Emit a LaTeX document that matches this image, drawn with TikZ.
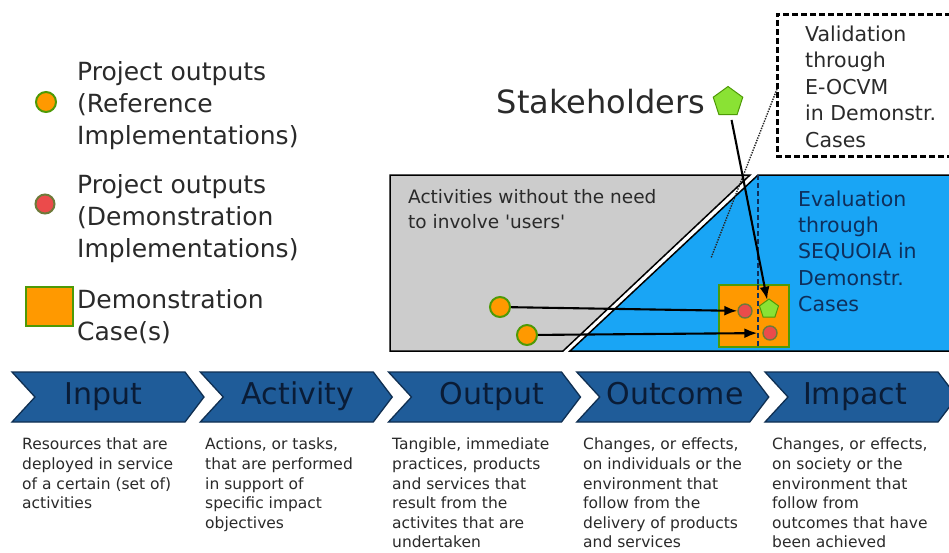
\documentclass[tikz,border=0pt]{standalone}
\usepackage{fontspec}
\setmainfont{DejaVu Sans}[Ligatures=TeXOff]
\usetikzlibrary{arrows.meta,shapes.geometric}

\definecolor{orangefill}{HTML}{FF9900}
\definecolor{greenedge}{HTML}{4E9A06}
\definecolor{redfill}{HTML}{EB4B4B}
\definecolor{rededge}{HTML}{6E7A3A}
\definecolor{pentfill}{HTML}{8AE234}
\definecolor{greyzone}{HTML}{CCCCCC}
\definecolor{bluezone}{HTML}{19A5F5}
\definecolor{navytext}{HTML}{0E2F5C}
\definecolor{chevfill}{HTML}{1F5C99}
\definecolor{chevline}{HTML}{0F2F52}
\definecolor{chevtext}{HTML}{0A1C36}
\definecolor{bodytext}{HTML}{2A2A2A}

\newcommand\fsz[2]{\fontsize{#1}{#2}\selectfont}
% first-line strut so that a node's top sits at a fixed height above its first baseline
\newcommand\topline{\vphantom{(}}

\begin{document}
\begin{tikzpicture}[x=1pt,y=-1pt,
  txt/.style={anchor=north west,align=left,inner sep=0pt,text=bodytext},
  legtext/.style={txt,font=\fsz{25}{32}},
  desc/.style={txt,font=\fsz{15.5}{19.6},text=bodytext},
  chevbody/.style={fill=chevfill,draw=chevline,line width=1.3},
  chevlabel/.style={anchor=base,inner sep=0pt,text=chevtext,font=\fsz{30}{30}},
  refdot/.style={circle,draw=greenedge,fill=orangefill,line width=2,minimum size=20,inner sep=0pt},
  demodot/.style={circle,draw=rededge,fill=redfill,line width=1.4,minimum size=14,inner sep=0pt},
  pent/.style={regular polygon,regular polygon sides=5,draw=greenedge,fill=pentfill,line width=1,inner sep=0pt},
  casebox/.style={draw=greenedge,fill=orangefill,line width=2,inner sep=0pt},
  flow/.style={-{Latex[length=13,width=10]},line width=2.1,black}
]
\useasboundingbox (0,0) rectangle (949,552);
\clip (0,0) rectangle (949,552);
\fill[white] (0,0) rectangle (949,552);

% ---------- legend ----------
\node[refdot] (legref) at (46,102) {};
\node[legtext] (legreftext) at (77,61) {\topline Project outputs\\(Reference\\Implementations)};
\node[demodot,minimum size=19,line width=2] (legdemo) at (45,204) {};
\node[legtext] (legdemotext) at (77,174) {\topline Project outputs\\(Demonstration\\Implementations)};
\node[casebox,minimum width=47,minimum height=39] (legcase) at (49,306) {};
\node[legtext] (legcasetext) at (77,289) {\topline Demonstration\\Case(s)};

% ---------- zones ----------
\draw[fill=greyzone,line width=1.5] (390,175) -- (750,175) -- (563,351) -- (390,351) -- cycle;
\draw[fill=bluezone,line width=1.5] (960,175) -- (758,175) -- (570,351) -- (960,351);
\draw[navytext,line width=1.5,dash pattern=on 5pt off 3pt] (758,175) -- (758,351);

\node[txt,font=\fsz{18.5}{25}] (userless) at (408,189) {\topline Activities without the need\\to involve 'users'};
\node[txt,font=\fsz{20.5}{26.3},text=navytext] (sequoia) at (798,190.5) {\topline Evaluation\\through\\SEQUOIA in\\Demonstr.\\Cases};

% ---------- validation box ----------
\draw[line width=3,dash pattern=on 6pt off 3pt] (960,14) -- (777,14) -- (777,156) -- (960,156);
\node[txt,font=\fsz{20.5}{26.5}] (validation) at (805,25.5) {\topline Validation\\through\\E-OCVM\\in Demonstr.\\Cases};
\coordinate (valedge) at (777,89);
\coordinate (valend) at (711,258);
\draw[black!85,line width=1.4,dash pattern=on 1.4pt off 1.2pt] (valedge) -- (valend);

% ---------- demonstration case ----------
\node[casebox,minimum width=70,minimum height=62] (case) at (754,316) {};
\draw[navytext,line width=1.5,dash pattern=on 5pt off 3pt] (758,285) -- (758,347);
\node[demodot] (demoA) at (745,311) {};
\node[demodot] (demoB) at (770,333) {};
\node[pent,minimum size=20] (stakein) at (769,309) {};

\node[refdot] (refA) at (500,307) {};
\node[refdot] (refB) at (527,335) {};
\draw[flow] (refA) -- (demoA);
\draw[flow,shorten >=5pt] (refB) -- (demoB);

% ---------- stakeholders ----------
\node[pent,minimum size=31] (stake) at (728,102) {};
\node[anchor=base east,inner sep=0pt,text=bodytext,font=\fsz{32}{32}] (staketext) at (705,113) {Stakeholders};
\draw[flow,shorten <=5pt] (stake) -- (stakein);

% ---------- result chain ----------
\foreach \L in {12,200.25,388.5,576.75,765}{
  \draw[chevbody] (\L,372) -- ++(173,0) -- ++(19,25) -- ++(-19,25) -- ++(-173,0) -- ++(23,-25) -- cycle;
}
\node[chevlabel] (input) at (103,404) {Input};
\node[chevlabel] (activity) at (298,404) {Activity};
\node[chevlabel] (output) at (492,404) {Output};
\node[chevlabel] (outcome) at (675,404) {Outcome};
\node[chevlabel] (impact) at (855,404) {Impact};

\node[desc] (dinput) at (22,438) {\topline Resources that are\\deployed in service\\of a certain (set of)\\activities};
\node[desc] (dactivity) at (205,438) {\topline Actions, or tasks,\\that are performed\\in support of\\specific impact\\objectives};
\node[desc] (doutput) at (392,438) {\topline Tangible, immediate\\practices, products\\and services that\\result from the\\activites that are\\undertaken};
\node[desc] (doutcome) at (583,438) {\topline Changes, or effects,\\on individuals or the\\environment that\\follow from the\\delivery of products\\and services};
\node[desc] (dimpact) at (772,438) {\topline Changes, or effects,\\on society or the\\environment that\\follow from\\outcomes that have\\been achieved};
\end{tikzpicture}
\end{document}
